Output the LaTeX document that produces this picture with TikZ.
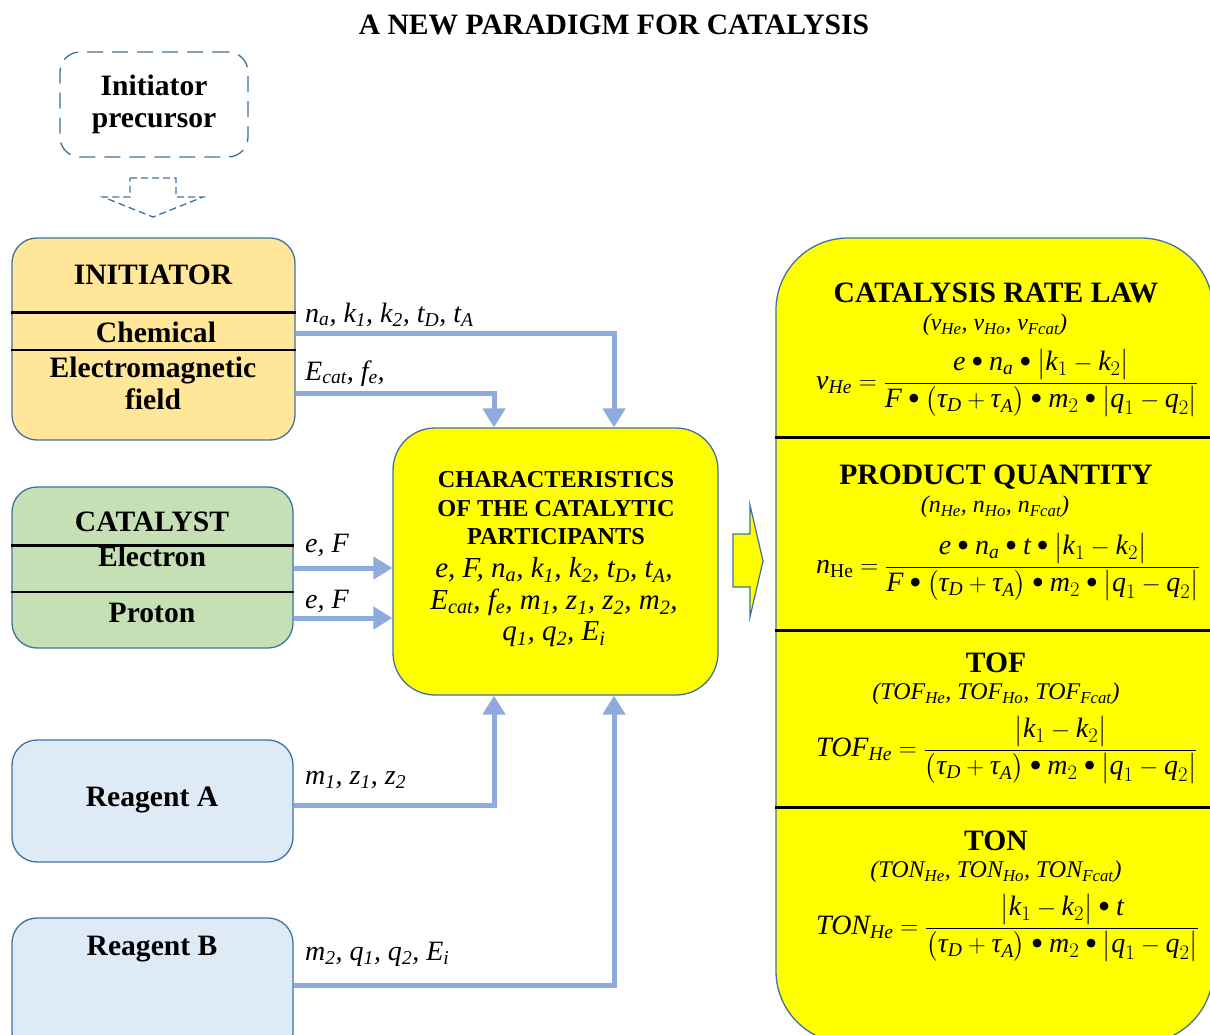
\documentclass[tikz,border=0pt]{standalone}
\usepackage{amsmath}
\usepackage{fontspec}
\setmainfont{Liberation Serif}
\usetikzlibrary{arrows.meta}
\definecolor{bordc}{HTML}{41719C}
\definecolor{arrc}{HTML}{8FAADC}
\definecolor{initc}{HTML}{FFE699}
\definecolor{catc}{HTML}{C5E0B4}
\definecolor{reagc}{HTML}{DEEBF7}
\definecolor{yel}{HTML}{FFFF00}
\newcommand\hb{\fontsize{29.6}{32}\selectfont\bfseries}
\newcommand\mb{\fontsize{24.3}{28.5}\selectfont\bfseries}
\newcommand\mi{\fontsize{29}{31.5}\selectfont\itshape}
\newcommand\lb{\fontsize{28}{30}\selectfont\itshape}
\newcommand\pr{\fontsize{24}{26}\selectfont\itshape}
\newcommand\fm{\fontsize{28}{30}\selectfont}
\newcommand\mv[1]{\textit{#1}}
\newcommand\bul{\mathbin{\raisebox{-2.5pt}{\fontsize{36}{36}\selectfont\textbullet}}}
\newcommand\sbs[1]{\textsubscript{#1}}
\newcommand\dnm{\bigl(\mv{τ}_{\mv{D}}+\mv{τ}_{\mv{A}}\bigr)\bul\mv{m}_2\bul\bigl|\mv{q}_1-\mv{q}_2\bigr|}
\begin{document}
\begin{tikzpicture}[x=1pt,y=-1pt,
  box/.style={draw=bordc, line width=1.3pt, rounded corners=25pt, inner sep=0pt},
  conn/.style={draw=arrc, line width=5pt, -{Triangle[width=22pt,length=19pt]}},
  txt/.style={inner sep=0pt, align=center},
  lbl/.style={inner sep=0pt, anchor=base west, font=\lb},
  sep/.style={line width=3pt},
  thin/.style={line width=1.4pt}]
\useasboundingbox (0,0) rectangle (1210,1034);

% title
\node[txt, font=\hb] (title) at (614,25) {A NEW PARADIGM FOR CATALYSIS};

% precursor
\node[box, dash pattern=on 16pt off 9pt, rounded corners=20pt, minimum width=188pt, minimum height=105pt, align=center, font=\hb] (prec) at (154,104.5) {Initiator\\precursor};
\draw[bordc, line width=1.3pt, dash pattern=on 7pt off 4pt] (130,178) -- (176,178) -- (176,197) -- (203,197) -- (153,217) -- (103,197) -- (130,197) -- cycle;

% left boxes
\node[box, fill=initc, minimum width=283pt, minimum height=202pt] (init) at (153.5,339) {};
\node[box, fill=catc, minimum width=281pt, minimum height=161pt] (cat) at (152.5,567.5) {};
\node[box, fill=reagc, minimum width=281pt, minimum height=122pt] (ra) at (152.5,801) {};
\node[box, fill=reagc, minimum width=281pt, minimum height=140pt] (rb) at (152.5,988) {};

\draw[sep] (init.west |- 0,312) -- (init.east |- 0,312);
\draw[thin] (init.west |- 0,350) -- (init.east |- 0,350);
\draw[sep] (cat.west |- 0,545) -- (cat.east |- 0,545);
\draw[thin] (cat.west |- 0,592) -- (cat.east |- 0,592);

\node[txt, font=\hb] (t-init) at (153,275) {INITIATOR};
\node[txt, font=\hb] (t-chem) at (156,332) {Chemical};
\node[txt, font=\hb] (t-em) at (153,383) {Electromagnetic\\field};
\node[txt, font=\hb] (t-cat) at (152,522) {CATALYST};
\node[txt, font=\hb] (t-el) at (152,556) {Electron};
\node[txt, font=\hb] (t-pr) at (152,613) {Proton};
\node[txt, font=\hb] (t-ra) at (152,800) {Reagent A};
\node[txt, font=\hb] (t-rb) at (152,949) {Reagent B};

% middle box
\node[box, fill=yel, rounded corners=42pt, minimum width=325pt, minimum height=267pt] (mid) at (555.5,561.5) {};
\node[txt, font=\mb] (t-mh) at (556,508.5) {CHARACTERISTICS\\OF THE CATALYTIC\\PARTICIPANTS};
\node[txt, font=\mi] (t-mv) at (554,602.5) {e, F, n\sbs{a}, k\sbs{1}, k\sbs{2}, t\sbs{D}, t\sbs{A},\\E\sbs{cat}, f\sbs{e}, m\sbs{1}, z\sbs{1}, z\sbs{2}, m\sbs{2},\\q\sbs{1}, q\sbs{2}, E\sbs{i}};

% block arrow
\draw[draw=bordc, fill=yel, line width=1.2pt] (733,534) -- (750,534) -- (750,505) -- (763,561) -- (750,617) -- (750,587) -- (733,587) -- cycle;

% right box
\node[box, fill=yel, rounded corners=72pt, minimum width=437pt, minimum height=805pt] (rt) at (994.5,640.5) {};
\draw[sep] (rt.west |- 0,437) -- (rt.east |- 0,437);
\draw[sep] (rt.west |- 0,630) -- (rt.east |- 0,630);
\draw[sep] (rt.west |- 0,807) -- (rt.east |- 0,807);

\node[txt, font=\hb] (h1) at (996,293) {CATALYSIS RATE LAW};
\node[txt, font=\pr] (p1) at (995,325) {(v\sbs{He}, v\sbs{Ho}, v\sbs{Fcat})};
\node[txt, font=\fm, anchor=west] (f1) at (816,383) {$\mv{v}_{\mv{He}}=\dfrac{\mv{e}\bul\mv{n}_{\mv{a}}\bul\bigl|\mv{k}_1-\mv{k}_2\bigr|}{\mv{F}\bul\dnm}$};

\node[txt, font=\hb] (h2) at (996,477) {PRODUCT QUANTITY};
\node[txt, font=\pr] (p2) at (995,507) {(n\sbs{He}, n\sbs{Ho}, n\sbs{Fcat})};
\node[txt, font=\fm, anchor=west] (f2) at (816,567) {$\mv{n}_{\mathrm{He}}=\dfrac{\mv{e}\bul\mv{n}_{\mv{a}}\bul\mv{t}\bul\bigl|\mv{k}_1-\mv{k}_2\bigr|}{\mv{F}\bul\dnm}$};

\node[txt, font=\hb] (h3) at (996,663) {TOF};
\node[txt, font=\pr] (p3) at (996,694) {(TOF\sbs{He}, TOF\sbs{Ho}, TOF\sbs{Fcat})};
\node[txt, font=\fm, anchor=west] (f3) at (816,750) {$\mv{TOF}_{\mv{He}}=\dfrac{\bigl|\mv{k}_1-\mv{k}_2\bigr|}{\dnm}$};

\node[txt, font=\hb] (h4) at (996,841) {TON};
\node[txt, font=\pr] (p4) at (996,872) {(TON\sbs{He}, TON\sbs{Ho}, TON\sbs{Fcat})};
\node[txt, font=\fm, anchor=west] (f4) at (816,928) {$\mv{TON}_{\mv{He}}=\dfrac{\bigl|\mv{k}_1-\mv{k}_2\bigr|\bul\mv{t}}{\dnm}$};

% connectors
\draw[conn] (init.east |- 0,333) -| (614,0 |- mid.north);
\draw[conn] (init.east |- 0,393) -| (494,0 |- mid.north);
\draw[conn] (cat.east |- 0,568) -- (mid.west |- 0,568);
\draw[conn] (cat.east |- 0,618) -- (mid.west |- 0,618);
\draw[conn] (ra.east |- 0,805) -| (494,0 |- mid.south);
\draw[conn] (rb.east |- 0,985) -| (614,0 |- mid.south);

\node[lbl] (l1) at (305,322) {n\sbs{a}, k\sbs{1}, k\sbs{2}, t\sbs{D}, t\sbs{A}};
\node[lbl] (l2) at (305,380) {E\sbs{cat}, f\sbs{e},};
\node[lbl] (l3) at (305,552) {e, F};
\node[lbl] (l4) at (305,608) {e, F};
\node[lbl] (l5) at (305,784) {m\sbs{1}, z\sbs{1}, z\sbs{2}};
\node[lbl] (l6) at (305,960) {m\sbs{2}, q\sbs{1}, q\sbs{2}, E\sbs{i}};
\end{tikzpicture}
\end{document}
